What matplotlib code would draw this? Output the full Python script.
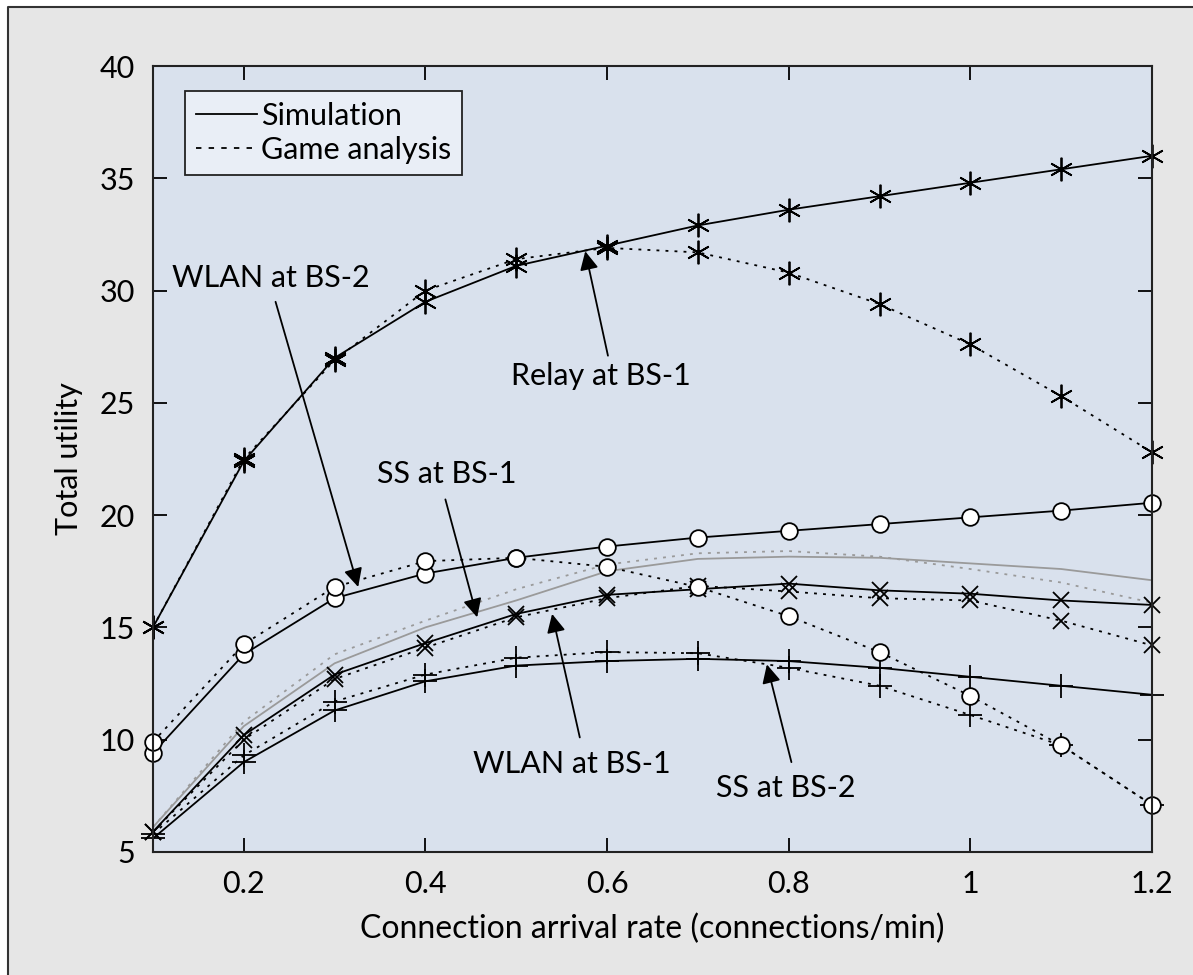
import matplotlib
matplotlib.use("Agg")
import matplotlib.pyplot as plt
from matplotlib.lines import Line2D
from matplotlib.patches import Rectangle

plt.rcParams['font.family'] = ['Lato', 'DejaVu Sans']

# Data
rate = [0.1, 0.2, 0.3, 0.4, 0.5, 0.6, 0.7, 0.8, 0.9, 1.0, 1.1, 1.2]

relay_bs1_sim = [15.0, 22.4, 27.0, 29.5, 31.1, 32.0, 32.9, 33.6, 34.2, 34.8, 35.4, 36.0]
relay_bs1_game = [15.0, 22.5, 26.9, 30.0, 31.4, 31.9, 31.7, 30.8, 29.4, 27.6, 25.3, 22.8]

wlan_bs2_sim = [9.4, 13.8, 16.3, 17.4, 18.1, 18.6, 19.0, 19.3, 19.6, 19.9, 20.2, 20.55]
wlan_bs2_game = [9.9, 14.25, 16.8, 17.95, 18.1, 17.7, 16.8, 15.5, 13.9, 11.95, 9.75, 7.1]

ss_bs1_sim = [6.1, 10.6, 13.4, 15.0, 16.2, 17.5, 18.05, 18.15, 18.1, 17.85, 17.6, 17.1]
ss_bs1_game = [6.1, 10.8, 13.8, 15.3, 16.7, 17.8, 18.3, 18.4, 18.15, 17.6, 17.0, 16.1]

wlan_bs1_sim = [5.9, 10.2, 12.9, 14.3, 15.6, 16.45, 16.7, 16.95, 16.65, 16.5, 16.2, 16.0]
wlan_bs1_game = [5.9, 10.0, 12.7, 14.1, 15.45, 16.3, 16.85, 16.6, 16.3, 16.2, 15.3, 14.2]

ss_bs2_sim = [5.6, 9.0, 11.3, 12.6, 13.3, 13.5, 13.6, 13.5, 13.2, 12.8, 12.4, 12.0]
ss_bs2_game = [5.8, 9.3, 11.7, 12.9, 13.65, 13.9, 13.85, 13.2, 12.4, 11.1, 9.75, 7.1]

x_ticks = [0.2, 0.4, 0.6, 0.8, 1.0, 1.2]
x_tick_labels = ['0.2', '0.4', '0.6', '0.8', '1', '1.2']
y_ticks = [5, 10, 15, 20, 25, 30, 35, 40]

# Annotations: label, text position, arrow start, arrow tip
notes = [
    ('WLAN at BS-2', (0.121, 30.55), (0.235, 29.5), (0.326, 16.8)),
    ('SS at BS-1', (0.347, 21.85), (0.422, 20.7), (0.457, 15.45)),
    ('Relay at BS-1', (0.494, 26.2), (0.601, 27.1), (0.576, 31.75)),
    ('WLAN at BS-1', (0.452, 8.9), (0.570, 10.1), (0.5395, 15.6)),
    ('SS at BS-2', (0.72, 7.85), (0.803, 9.0), (0.776, 13.35)),
]

fs = 22

fig = plt.figure(figsize=(11.93, 9.75), dpi=100)
fig.patch.set_facecolor('white')
# grey panel with a border on the top and left only
x0, y1 = 8 / 1193, 1 - 7 / 975
fig.patches.append(Rectangle((x0, 0), 1 - x0, y1, transform=fig.transFigure,
                             facecolor='#e6e6e6', edgecolor='none', zorder=-5))
fig.lines.append(Line2D([x0, x0, 1], [0, y1, y1], transform=fig.transFigure,
                        color='#333333', lw=1.5, zorder=-4))

ax = fig.add_axes([0.1282, 0.1262, 0.8374, 0.8061])
ax.set_facecolor('#d9e1ed')

dot = (0, (1.6, 3.4))
lw = 1.3
star = (6, 2, 0)
circ = dict(marker='o', markersize=12, markerfacecolor='white', markeredgecolor='black', markeredgewidth=1.3)
star_kw = dict(marker=star, markersize=17, markeredgewidth=1.3, color='black')
x_kw = dict(marker='x', markersize=12, markeredgewidth=1.3, color='black')
p_kw = dict(marker='+', markersize=17, markeredgewidth=1.3, color='black')

# SS at BS-1 (gray, no markers)
ax.plot(rate, ss_bs1_sim, color='#9a9a9a', lw=lw)
ax.plot(rate, ss_bs1_game, color='#9a9a9a', lw=lw, linestyle=dot)

# SS at BS-2
ax.plot(rate, ss_bs2_sim, lw=lw, clip_on=False, **p_kw)
ax.plot(rate, ss_bs2_game, lw=lw, linestyle=dot, clip_on=False, **p_kw)

# WLAN at BS-1
ax.plot(rate, wlan_bs1_sim, lw=lw, clip_on=False, **x_kw)
ax.plot(rate, wlan_bs1_game, lw=lw, linestyle=dot, clip_on=False, **x_kw)

# WLAN at BS-2
ax.plot(rate, wlan_bs2_sim, color='black', lw=lw, clip_on=False, **circ)
ax.plot(rate, wlan_bs2_game, color='black', lw=lw, linestyle=dot, clip_on=False, **circ)

# Relay at BS-1
ax.plot(rate, relay_bs1_sim, lw=lw, clip_on=False, **star_kw)
ax.plot(rate, relay_bs1_game, lw=lw, linestyle=dot, clip_on=False, **star_kw)

for label, txt, start, tip in notes:
    ax.text(txt[0], txt[1], label, fontsize=fs, ha='left', va='center')
    ax.annotate('', xy=tip, xytext=start,
                arrowprops=dict(arrowstyle='-|>', mutation_scale=28, color='black',
                                lw=1.3, shrinkA=0, shrinkB=0))

ax.set_xlim(0.1, 1.2)
ax.set_ylim(5, 40)
ax.set_xticks(x_ticks)
ax.set_xticklabels(x_tick_labels)
ax.set_yticks(y_ticks)
ax.tick_params(direction='in', length=10, width=1.3, top=True, right=True,
               labelsize=fs, pad=13)
for s in ax.spines.values():
    s.set_linewidth(1.5)
    s.set_color('#222222')

ax.set_xlabel('Connection arrival rate (connections/min)', fontsize=fs + 1, labelpad=11)
ax.set_ylabel('Total utility', fontsize=fs, labelpad=12)

handles = [Line2D([], [], color='black', lw=1.3),
           Line2D([], [], color='black', lw=1.3, linestyle=(0, (3, 4)))]
leg = ax.legend(handles, ['Simulation', 'Game analysis'], loc='upper left',
                bbox_to_anchor=(0.032, 0.968), fontsize=fs, handlelength=2.0,
                handletextpad=0.15, labelspacing=0.2, borderpad=0.35,
                borderaxespad=0, fancybox=False, framealpha=1)
leg.get_frame().set_facecolor('#e9eef6')
leg.get_frame().set_edgecolor('#222222')
leg.get_frame().set_linewidth(1.3)

fig.savefig('out.png', dpi=100)
